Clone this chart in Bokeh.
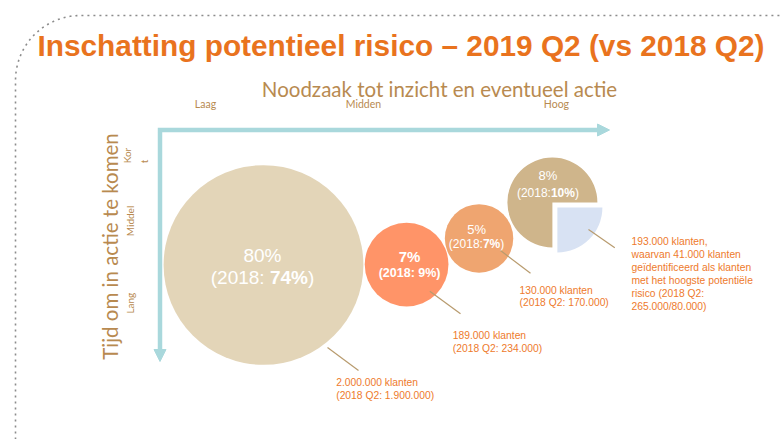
import math
from bokeh.plotting import figure
from bokeh.models import Range1d, Arrow, NormalHead
from bokeh.core.properties import value
from bokeh.embed import file_html
from bokeh.resources import INLINE

# ---------------- data ----------------
title = "Inschatting potentieel risico \u2013 2019 Q2 (vs 2018 Q2)"
x_title = "Noodzaak tot inzicht en eventueel actie"
y_title = "Tijd om in actie te komen"

urgency_labels = ["Laag", "Midden", "Hoog"]
urgency_ticks = [10.1, 45.2, 88.1]
time_labels = ["Kor\nt", "Middel", "Lang"]
time_ticks = [7.4, 23.6, 40.8]

share_2019 = [80, 7, 5, 8]
share_2018 = [74, 9, 7, 10]
clients_2019 = ["2.000.000", "189.000", "130.000", "193.000"]
clients_2018 = ["1.900.000", "234.000", "170.000", "265.000"]
top_risk_2019 = "41.000"
top_risk_2018 = "80.000"

bubble_urgency = [23.0, 54.8, 70.9, 87.2]
bubble_time = [30.0, 29.9, 24.1, 16.1]
bubble_size = [22.2, 9.3, 7.6, 10.0]

# ---------------- layout / style ----------------
K = 4.5                      # px per unit
OX, OY = 159.5, 129.5        # pixel position of axis origin
W, H = 780, 439

def ux(px):
    return (px - OX) / K

def uy(py):
    return (py - OY) / K

p = figure(width=W, height=H, output_backend="svg", toolbar_location=None,
           x_range=Range1d(ux(0), ux(W)), y_range=Range1d(uy(H), uy(0)),
           x_axis_type=None, y_axis_type=None, min_border=0)
p.grid.visible = False
p.outline_line_color = None
p.background_fill_color = "white"
p.border_fill_color = "white"

ORANGE = "#E9731E"
ANN = "#EE7A2C"
BROWN = "#B88A50"
TEAL = "#A9D8DC"
LEADER = "#B89B6E"
colors = ["#E3D5B8", "#FF9468", "#EFA570", "#CFB58B"]
BLUE = "#D8E2F3"

# dotted frame
pts_x, pts_y = [15, 15], [H, 80]
for i in range(1, 31):
    a = math.pi + (math.pi / 2) * i / 30
    pts_x.append(80 + 65 * math.cos(a))
    pts_y.append(80 + 65 * math.sin(a))
pts_x.append(W)
pts_y.append(15)
p.line([ux(v) for v in pts_x], [uy(v) for v in pts_y], line_color="#8C8C8C",
       line_width=1.6, line_dash="2 4")

# title
p.text(x=[ux(37)], y=[uy(45)], text=[title], text_color=ORANGE,
       text_font=value("Liberation Sans"),
       text_font_style="bold", text_font_size="29.8px",
       text_align="left", text_baseline="middle")

# axis titles
p.text(x=[ux(439)], y=[uy(88.5)], text=[x_title], text_color=BROWN,
       text_font=value("Lato"), text_font_size="20.5px",
       text_align="center", text_baseline="middle")
p.text(x=[ux(109.5)], y=[uy(246)], text=[y_title], text_color=BROWN,
       text_font=value("Lato"), text_font_size="20.5px", angle=math.pi / 2,
       text_align="center", text_baseline="middle")

# tick labels
p.text(x=urgency_ticks, y=[uy(103)] * 3, text=urgency_labels, text_color=BROWN,
       text_font=value("Lato"), text_font_size="10.5px",
       text_align="center", text_baseline="middle")
p.text(x=[ux(135)], y=[time_ticks[0]], text=[time_labels[0]], text_color=BROWN,
       text_font=value("Lato"), text_font_size="10px", angle=math.pi / 2,
       text_align="left", text_baseline="middle", text_line_height=1.4)
p.text(x=[ux(129.5)] * 2, y=time_ticks[1:], text=time_labels[1:], text_color=BROWN,
       text_font=value("Lato"), text_font_size="10px", angle=math.pi / 2,
       text_align="left", text_baseline="middle")

# axis arrows
p.line([0, 0, ux(601)], [uy(352), 0, 0], line_color=TEAL, line_width=4.5,
       line_join="miter")
p.add_layout(Arrow(end=NormalHead(size=12, fill_color=TEAL, line_color=TEAL),
                   x_start=ux(590), y_start=0, x_end=ux(609), y_end=0,
                   line_alpha=0))
p.add_layout(Arrow(end=NormalHead(size=12, fill_color=TEAL, line_color=TEAL),
                   x_start=0, y_start=uy(340), x_end=0, y_end=uy(361),
                   line_alpha=0))

# bubbles
p.circle(x=bubble_urgency[:3], y=bubble_time[:3], radius=bubble_size[:3],
         fill_color=colors[:3], line_color=None)
p.wedge(x=[bubble_urgency[3]], y=[bubble_time[3]], radius=[bubble_size[3]],
        start_angle=0, end_angle=1.5 * math.pi, direction="anticlock",
        fill_color=colors[3], line_color=None)
p.wedge(x=[bubble_urgency[3] + 5 / K], y=[bubble_time[3] + 5 / K],
        radius=[bubble_size[3]], start_angle=1.5 * math.pi, end_angle=2 * math.pi,
        direction="anticlock", fill_color=BLUE, line_color=None)

# bubble labels
NORMAL = {"(": .333, ")": .333, ":": .278, " ": .278, "%": .889}
BOLD = {"(": .333, ")": .333, ":": .333, " ": .278, "%": .889}

def tw(s, bold, size):
    t = BOLD if bold else NORMAL
    return sum(t.get(c, .556) for c in s) * size

label_style = [
    dict(s1=19, b1=False, s2=19, sep=": ", mode="part", dx=-1, dy1=-10, dy2=12.5),
    dict(s1=15, b1=True, s2=12.5, sep=": ", mode="all", dx=3, dy1=-7.7, dy2=8.5),
    dict(s1=13, b1=False, s2=12, sep=":", mode="part", dx=-2.5, dy1=-9.3, dy2=6),
    dict(s1=13, b1=False, s2=12, sep=":", mode="part", dx=-4.5, dy1=-26.7, dy2=-9.5),
]
FONT = value("Liberation Sans")
for i, st in enumerate(label_style):
    bx, by = bubble_urgency[i], bubble_time[i]
    p.text(x=[bx], y=[by], text=[f"{share_2019[i]}%"], x_offset=st["dx"],
           y_offset=st["dy1"], text_color="white", text_font=FONT,
           text_font_size=f'{st["s1"]}px',
           text_font_style="bold" if st["b1"] else "normal",
           text_align="center", text_baseline="middle")
    if st["mode"] == "all":
        pieces = [(f"(2018{st['sep']}{share_2018[i]}%)", True)]
    else:
        pieces = [(f"(2018{st['sep']}", False), (f"{share_2018[i]}%", True), (")", False)]
    total = sum(tw(s, b, st["s2"]) for s, b in pieces)
    cur = -total / 2 + st["dx"]
    for s, b in pieces:
        p.text(x=[bx], y=[by], text=[s], x_offset=cur, y_offset=st["dy2"],
               text_color="white", text_font=FONT, text_font_size=f'{st["s2"]}px',
               text_font_style="bold" if b else "normal",
               text_align="left", text_baseline="middle")
        cur += tw(s, b, st["s2"])

# leader lines
lead_x0 = [ux(327), ux(429.3), ux(500), ux(588)]
lead_y0 = [uy(347), uy(290.7), uy(250), uy(229)]
lead_x1 = [ux(358), ux(460), ux(530), ux(614.3)]
lead_y1 = [uy(370), uy(313.3), uy(272.7), uy(247.3)]
p.segment(lead_x0, lead_y0, lead_x1, lead_y1, line_color=LEADER, line_width=1.2)

# annotations
ann_text = [f"{clients_2019[i]} klanten\n(2018 Q2: {clients_2018[i]})" for i in range(3)]
ann_text.append(f"{clients_2019[3]} klanten,\nwaarvan {top_risk_2019} klanten\n"
                f"ge\u00efdentificeerd als klanten\nmet het hoogste potenti\u00eble\n"
                f"risico (2018 Q2:\n{clients_2018[3]}/{top_risk_2018})")
ann_x = [ux(335.7), ux(452.3), ux(519), ux(631)]
ann_y = [uy(376.5), uy(329.5), uy(284), uy(235.5)]
p.text(x=ann_x, y=ann_y, text=ann_text, text_color=ANN, text_font=FONT,
       text_font_size="10.3px", text_align="left", text_baseline="top",
       text_line_height=1.18)

open("out.html", "w").write(file_html(p, INLINE))
